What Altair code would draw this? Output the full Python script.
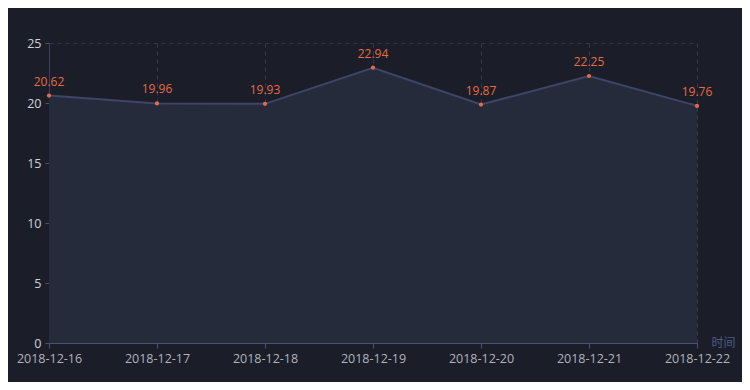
import altair as alt
import pandas as pd

dates = ["2018-12-16", "2018-12-17", "2018-12-18", "2018-12-19", "2018-12-20", "2018-12-21", "2018-12-22"]
values = [20.62, 19.96, 19.93, 22.94, 19.87, 22.25, 19.76]

df = pd.DataFrame({"date": dates, "value": values})

x = alt.X("date:O", sort=dates,
          scale=alt.Scale(type="point", padding=0),
          axis=alt.Axis(title="时间", labelAngle=0, labelColor="#b0b3bd", labelFontSize=12.5,
                        labelFont="Open Sans", labelPadding=4,
                        titleColor="#4b5b86", titleFont="Noto Sans CJK SC", titleFontSize=12,
                        titleFontWeight="normal", titleX=674, titleY=-1, titleAlign="center",
                        titleBaseline="middle",
                        domainColor="#4a5275", tickColor="#4a5275", tickSize=5,
                        grid=True, gridColor="#363c50", gridDash=[4, 4]))
y = alt.Y("value:Q", scale=alt.Scale(domain=[0, 25]),
          axis=alt.Axis(title=None, values=[0, 5, 10, 15, 20, 25], labelColor="#d0d2d8",
                        labelFontSize=12.5, labelFont="Open Sans", labelPadding=4,
                        domainColor="#3a4260", tickColor="#4a5275", tickSize=4,
                        grid=True, gridColor="#30364a", gridDash=[4, 4]))

base = alt.Chart(df).encode(x=x, y=y)

area = base.mark_area(color="#262b3c", opacity=1, line={"color": "#3d4668", "strokeWidth": 2})
pts = base.mark_circle(color="#e86a45", size=18, opacity=1)
labels = base.mark_text(color="#e86a45", dy=-7, baseline="bottom", fontSize=12,
                        font="Open Sans").encode(text=alt.Text("value:Q", format=".2f"))

chart = alt.layer(area, pts, labels).properties(
    width=648, height=300,
    background="#1b1e28",
    padding={"left": 41, "top": 35, "right": 45, "bottom": 39},
    autosize=alt.AutoSizeParams(type="none"),
).configure_view(stroke=None)

chart.save("out.html", embed_options={"renderer": "svg", "actions": False})
